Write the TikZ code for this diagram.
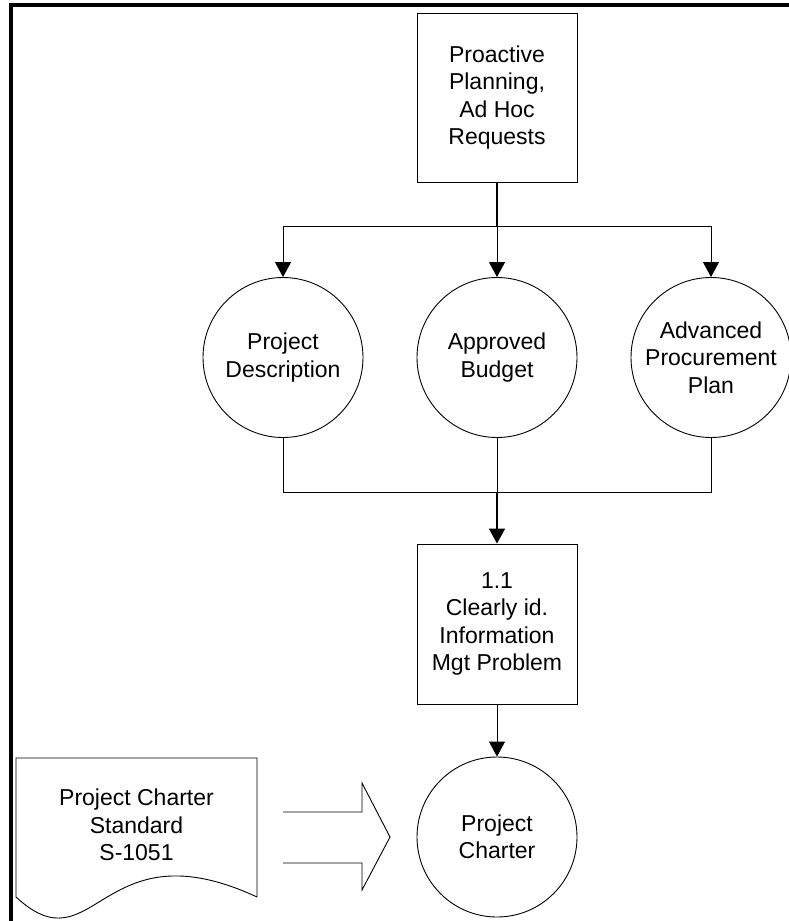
\documentclass[tikz,border=0pt]{standalone}
\usepackage{fontspec}
\setmainfont{Liberation Sans}
\usetikzlibrary{arrows.meta}
\begin{document}
\begin{tikzpicture}[x=1pt,y=-1pt,
  txt/.style={font=\fontsize{23}{27.5}\selectfont, align=center},
  procbox/.style={draw, line width=0.9pt, minimum width=160pt, inner sep=0pt, txt},
  datacirc/.style={draw, circle, line width=0.9pt, minimum size=160pt, inner sep=0pt, txt},
  link/.style={line width=1pt},
  trunk/.style={line width=1.6pt},
  arr/.style={-{Triangle[width=16pt,length=15pt]}}]
  \useasboundingbox (0,0) rectangle (788,921);
  % frame (only top and left edges fall inside the page)
  \draw[line width=4pt] (11,921) -- (11,5) -- (800,5);

  % process boxes
  \node[procbox, minimum height=169pt] (src) at (497,97.5)
    {Proactive\\Planning,\\Ad Hoc\\Requests};
  \node[procbox, minimum height=160pt] (p11) at (497,624)
    {1.1\\Clearly id.\\Information\\Mgt Problem};

  % data stores
  \node[datacirc] (desc) at (283,357.5) {Project\\Description};
  \node[datacirc] (budget) at (497,357.5) {Approved\\Budget};
  \node[datacirc] (proc) at (711,357.5) {Advanced\\Procurement\\Plan};
  \node[datacirc] (charter) at (497,837) {Project\\Charter};

  % fan-out from the source box
  \coordinate (split) at (497,226);
  \draw[trunk] (src.south) -- (split);
  \draw[link,arr] (split) -| (desc.north);
  \draw[link,arr] (split) -- (budget.north);
  \draw[link,arr] (split) -| (proc.north);

  % merge into process 1.1
  \coordinate (merge) at (497,492);
  \draw[link] (desc.south) |- (merge);
  \draw[link] (proc.south) |- (merge);
  \draw[link] (budget.south) -- (merge);
  \draw[trunk,arr] (merge) -- (p11.north);
  \draw[link,arr] (p11.south) -- (charter.north);

  % standard document with wavy lower edge
  \draw[line width=0.9pt] (257,897) -- (257,758) -- (16,758) -- (16,897)
    .. controls (95,970) and (100,824) .. (257,897);
  \node[txt] (std) at (136.5,825) {Project Charter\\Standard\\S-1051};

  % block arrow feeding the charter
  \draw[line width=0.9pt] (283,812) -- (362,812) -- (362,783) -- (390,837)
    -- (362,890) -- (362,863) -- (283,863);
\end{tikzpicture}
\end{document}
